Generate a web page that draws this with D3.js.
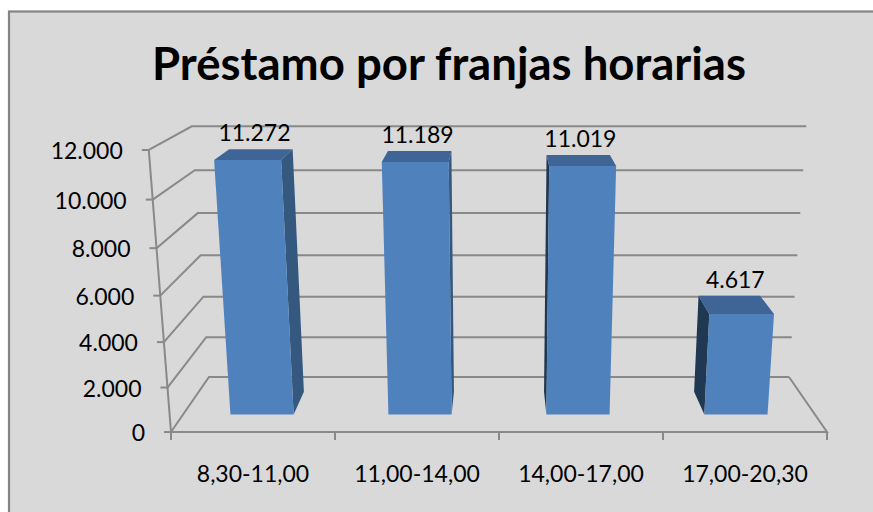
<!DOCTYPE html>
<html>
<head>
<meta charset="utf-8">
<script src="https://cdn.jsdelivr.net/npm/d3@7"></script>
<style>
  html, body { margin: 0; padding: 0; background: #ffffff; }
  svg { display: block; }
  text { font-family: Lato, "Open Sans", sans-serif; fill: #000; }
</style>
</head>
<body>
<svg id="chart" width="873" height="512"></svg>
<script>
// Préstamos por franja horaria
const title = "Préstamo por franjas horarias";
const categories = ["8,30-11,00", "11,00-14,00", "14,00-17,00", "17,00-20,30"];
const values = [11272, 11189, 11019, 4617];
const valueTicks = [0, 2000, 4000, 6000, 8000, 10000, 12000];

const W = 873, H = 512;
const svg = d3.select("#chart");

// Spanish number format: 11.272
const fmt = d3.formatLocale({ decimal: ",", thousands: ".", grouping: [3], currency: ["", " €"] }).format(",d");

// ---- perspective camera (tilted down, no yaw) ----
const cam = { cx: 499, cy: 268, f: 1161, tilt: 15 * Math.PI / 180 };
const sinT = Math.sin(cam.tilt), cosT = Math.cos(cam.tilt);
function proj(X, Y, Z) {
  const d = -Y * sinT + Z * cosT;
  const v = Y * cosT + Z * sinT;
  return [cam.cx + cam.f * X / d, cam.cy - cam.f * v / d];
}

// ---- world box of the plot ----
const box = { x0: -0.7147, x1: 0.7147, zFront: 2.351, zBack: 2.694 };

// category scale along world X
const x = d3.scaleBand()
  .domain(categories)
  .range([box.x0, box.x1])
  .paddingInner(0.6)
  .paddingOuter(0.3);

// value scale along world Y (floor = -1)
const y = d3.scaleLinear().domain([0, 12000]).range([-1, -0.3806]);

const line = d3.line();
const gridColor = "#898989";

// background + border
svg.append("rect")
  .attr("x", 9).attr("y", 11.5)
  .attr("width", W + 20).attr("height", H + 20)
  .attr("fill", "#d9d9d9")
  .attr("stroke", "#848484")
  .attr("stroke-width", 2.2);

// title
const t = svg.append("text")
  .attr("x", 449).attr("y", 80)
  .attr("text-anchor", "middle")
  .style("font-size", "46px")
  .style("font-weight", "bold")
  .text(title);
const tl = t.node().getComputedTextLength();
if (tl > 594) t.attr("textLength", 594).attr("lengthAdjust", "spacingAndGlyphs");

const grid = svg.append("g")
  .attr("fill", "none")
  .attr("stroke", gridColor)
  .attr("stroke-width", 2);

// gridlines on the back wall and the left side wall
valueTicks.forEach(v => {
  const Y = y(v);
  grid.append("path").attr("d", line([
    proj(box.x0, Y, box.zFront),
    proj(box.x0, Y, box.zBack),
    proj(box.x1, Y, box.zBack)
  ]));
});

// floor outline (front and right edge)
grid.append("path").attr("d", line([
  proj(box.x0, y(0), box.zFront),
  proj(box.x1, y(0), box.zFront),
  proj(box.x1, y(0), box.zBack)
]));

// value axis line at the front-left corner
grid.append("path").attr("d", line([
  proj(box.x0, y(0), box.zFront),
  proj(box.x0, y(12000), box.zFront)
]));

// value axis ticks and labels
const yAxis = svg.append("g");
valueTicks.forEach(v => {
  const p = proj(box.x0, y(v), box.zFront);
  yAxis.append("line")
    .attr("x1", p[0] - 7).attr("x2", p[0])
    .attr("y1", p[1]).attr("y2", p[1])
    .attr("stroke", gridColor).attr("stroke-width", 2);
  yAxis.append("text")
    .attr("x", p[0] - 26).attr("y", p[1] + 9)
    .attr("text-anchor", "end")
    .style("font-size", "23px")
    .text(fmt(v));
});

// category ticks at band boundaries and labels
const xAxis = svg.append("g");
const step = x.step();
const bounds = d3.range(categories.length + 1).map(i => box.x0 + i * step);
bounds.forEach(X => {
  const p = proj(X, y(0), box.zFront);
  xAxis.append("line")
    .attr("x1", p[0]).attr("x2", p[0])
    .attr("y1", p[1]).attr("y2", p[1] + 8)
    .attr("stroke", gridColor).attr("stroke-width", 2);
});
categories.forEach(c => {
  const p = proj(x(c) + x.bandwidth() / 2, y(0), box.zFront);
  xAxis.append("text")
    .attr("x", p[0]).attr("y", p[1] + 50)
    .attr("text-anchor", "middle")
    .style("font-size", "23px")
    .text(c);
});

// ---- 3D columns ----
const colors = { front: "#4f81bd", top: "#3e6596", right: "#35587f", left: "#213852" };
const zMid = (box.zFront + box.zBack) / 2;
const bars = svg.append("g");
const poly = pts => line(pts) + "Z";

categories.forEach((c, i) => {
  const X0 = x(c), X1 = x(c) + x.bandwidth();
  const depth = x.bandwidth();
  const Z0 = zMid - depth / 2, Z1 = zMid + depth / 2;
  const Yb = y(0), Yt = y(values[i]);
  const g = bars.append("g");

  // visible side face depends on which side of the camera the column sits
  const sideX = (X0 + X1) / 2 < 0 ? X1 : X0;
  g.append("path")
    .attr("d", poly([proj(sideX, Yb, Z0), proj(sideX, Yb, Z1), proj(sideX, Yt, Z1), proj(sideX, Yt, Z0)]))
    .attr("fill", sideX === X1 ? colors.right : colors.left);

  g.append("path")
    .attr("d", poly([proj(X0, Yt, Z0), proj(X1, Yt, Z0), proj(X1, Yt, Z1), proj(X0, Yt, Z1)]))
    .attr("fill", colors.top);

  g.append("path")
    .attr("d", poly([proj(X0, Yb, Z0), proj(X1, Yb, Z0), proj(X1, Yt, Z0), proj(X0, Yt, Z0)]))
    .attr("fill", colors.front);

  // value label above the column
  const lp = proj((X0 + X1) / 2, Yt, zMid);
  const backTop = proj((X0 + X1) / 2, Yt, Z1);
  g.append("text")
    .attr("x", lp[0]).attr("y", backTop[1] - 8)
    .attr("text-anchor", "middle")
    .style("font-size", "23px")
    .text(fmt(values[i]));
});
</script>
</body>
</html>
